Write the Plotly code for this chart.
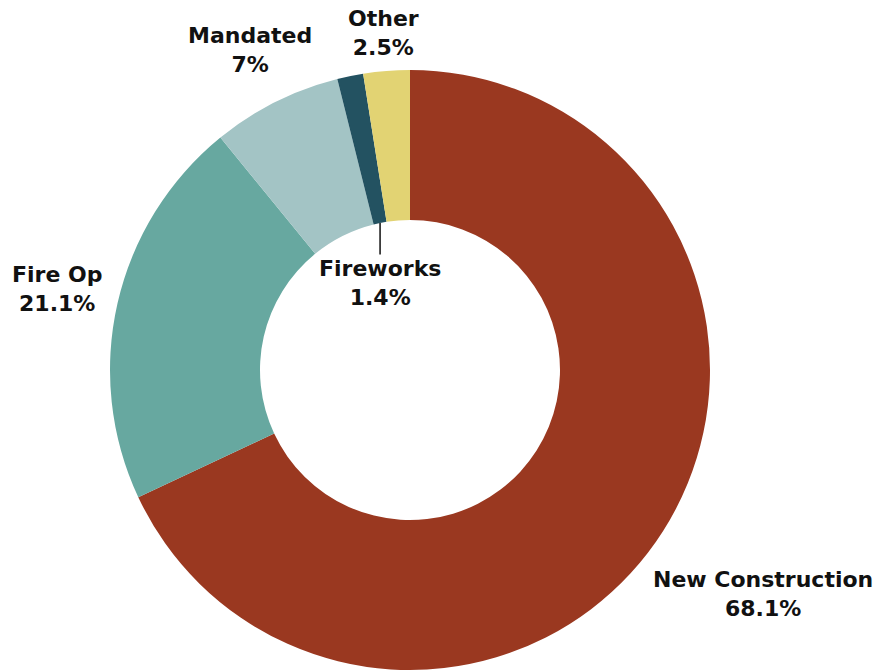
import math
import plotly.graph_objects as go

categories = ["New Construction", "Fire Op", "Mandated", "Fireworks", "Other"]
values = [68.1, 21.1, 7, 1.4, 2.5]
value_labels = ["68.1%", "21.1%", "7%", "1.4%", "2.5%"]
colors = ["#9A3820", "#67A8A0", "#A3C4C5", "#235261", "#E2D373"]
# label distance as multiple of outer radius (None = inside-hole callout)
label_radius = [1.393, 1.207, 1.193, None, 1.127]

W, H = 880, 671
CX, CY, R = 410, 370, 300
HOLE = 0.5

fig = go.Figure(go.Pie(
    labels=categories, values=values, sort=False, direction="clockwise",
    rotation=0, hole=HOLE, textinfo="none", hoverinfo="label+percent",
    marker=dict(colors=colors, line=dict(width=0)),
    domain=dict(x=[(CX - R) / W, (CX + R) / W], y=[1 - (CY + R) / H, 1 - (CY - R) / H]),
    showlegend=False,
))

font = dict(family="DejaVu Sans", size=22, color="#111111", weight=700)
total = sum(values)
cum = 0
annotations = []
for cat, v, lab, rf in zip(categories, values, value_labels, label_radius):
    mid = (cum + v / 2) / total * 2 * math.pi
    cum += v
    text = f"<b>{cat}</b><br><b>{lab}</b>"
    if rf is not None:
        px = CX + rf * R * math.sin(mid)
        py = CY - rf * R * math.cos(mid)
        annotations.append(dict(x=px / W, y=1 - py / H, xref="paper", yref="paper",
                                text=text, showarrow=False, font=font,
                                xanchor="center", yanchor="middle", align="center"))
    else:
        px = CX + HOLE * R * math.sin(mid)
        py = CY - HOLE * R * math.cos(mid)
        annotations.append(dict(x=px / W, y=1 - py / H, xref="paper", yref="paper",
                                text=text, showarrow=True, arrowhead=0, arrowwidth=1.5,
                                arrowcolor="#111111", ax=0, ay=60, standoff=0,
                                font=font, align="center"))

fig.update_layout(
    width=W, height=H, margin=dict(l=0, r=0, t=0, b=0),
    paper_bgcolor="white", plot_bgcolor="white",
    annotations=annotations,
)
fig.write_html("out.html")
